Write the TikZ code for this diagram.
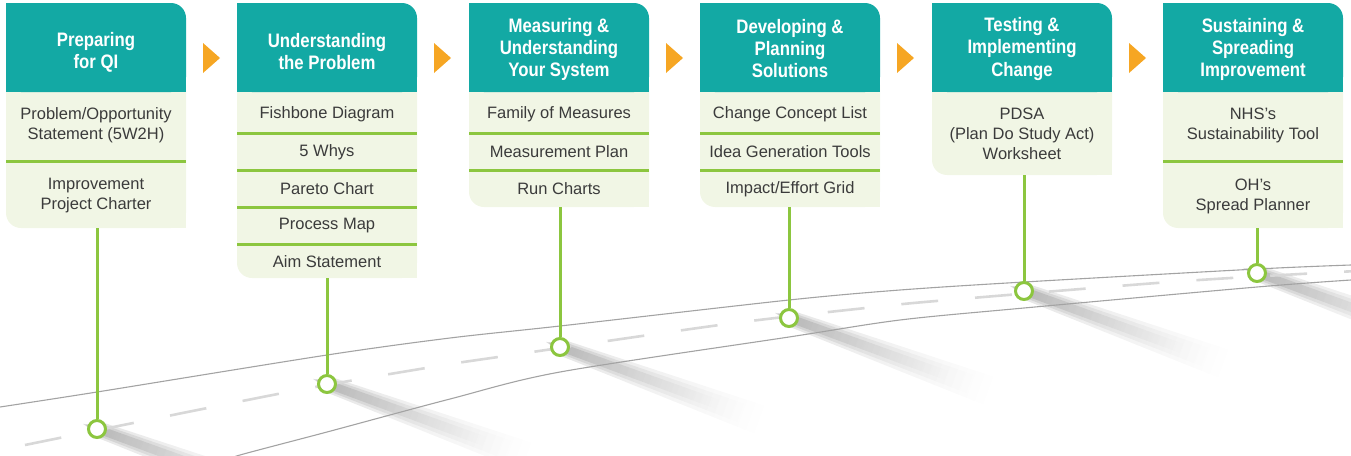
\documentclass[tikz,border=0pt]{standalone}
\usepackage{fontspec}
\setmainfont{Liberation Sans}
\newfontfamily\hdfont[FakeStretch=0.86]{Liberation Sans}
\usetikzlibrary{fadings}
\definecolor{qiteal}{HTML}{13A9A4}
\definecolor{qicream}{HTML}{F1F6E5}
\definecolor{qigreen}{HTML}{8CC63F}
\definecolor{qiorange}{HTML}{F6A623}
\definecolor{qitext}{HTML}{3B3B3B}
\definecolor{qiroad}{HTML}{A3A3A3}
\definecolor{qidash}{HTML}{D8D8D8}
\tikzfading[name=shfade, left color=transparent!0, right color=transparent!100]
\tikzset{
  hdtext/.style={text=white, align=center, font=\hdfont\bfseries\fontsize{19.5}{22}\selectfont},
  itemtext/.style={text=qitext, align=center, font=\fontsize{16.5}{20}\selectfont},
  sepline/.style={draw=qigreen, line width=3pt},
  pole/.style={draw=qigreen, line width=3pt},
  milestone/.style={circle, draw=qigreen, line width=3pt, fill=white, minimum size=17pt, inner sep=0pt},
  roadedge/.style={draw=qiroad, line width=1.1pt},
  roaddash/.style={draw=qidash, line width=2.6pt, dash pattern=on 37pt off 37pt},
  steparrow/.style={fill=qiorange},
  shadowpart/.style={fill=black, opacity=0.10, path fading=shfade},
}
\newcommand\qibox[2]{%
  \fill[qicream, rounded corners=15pt] (#1,70) rectangle (#1+180,#2);
  \fill[qicream] (#1+150,#2-30) rectangle (#1+180,#2);
  \fill[qiteal, rounded corners=15pt] (#1,3) rectangle (#1+180,92);
  \fill[qiteal] (#1,3) rectangle (#1+30,40);
  \fill[qiteal] (#1,60) rectangle (#1+180,92);
}
\newcommand\qisep[2]{\draw[sepline] (#1,#2) -- (#1+180,#2);}
\newcommand\qishadow[2]{%
  \begin{scope}[transform canvas={shift={(#1,#2)}, rotate=-20}]
    \fill[shadowpart] (-10,0) -- (0,-8) -- (215,-15) -- (215,15) -- (0,8) -- cycle;
    \fill[shadowpart] (-12,0) -- (0,-6) -- (195,-10) -- (195,10) -- (0,6) -- cycle;
    \fill[shadowpart, opacity=0.12] (-15,0) -- (0,-4) -- (170,-5) -- (170,5) -- (0,4) -- cycle;
  \end{scope}}
\begin{document}
\begin{tikzpicture}[x=1pt, y=-1pt]
\useasboundingbox (0,0) rectangle (1351,455);
\clip (0,0) rectangle (1351,455);
% shadows
\qishadow{97}{429}
\qishadow{327}{384}
\qishadow{560}{347}
\qishadow{789}{318}
\qishadow{1024}{291}
\qishadow{1257}{273}
% road
\draw[roadedge] plot[smooth] coordinates {(0,407) (97,392) (327,355) (450,338) (560,326) (789,300) (900,290) (1024,282) (1257,269) (1351,265)};
\draw[roadedge] plot[smooth] coordinates {(225,461) (240,455) (327,432) (450,399) (560,372) (789,337) (900,320) (1024,308) (1257,287) (1351,280)};
\draw[roaddash] plot[smooth] coordinates {(25,445) (283,393) (432,367) (505,356) (727,324) (875,307) (948,300) (1170,282) (1318,273) (1360,271)};
% boxes
\qibox{6}{228}
\qibox{237}{278}
\qibox{469}{207}
\qibox{700}{207}
\qibox{932}{175}
\qibox{1163}{228}
\qisep{6}{161}
\qisep{237}{133}\qisep{237}{170}\qisep{237}{207}\qisep{237}{244}
\qisep{469}{133}\qisep{469}{170}
\qisep{700}{133}\qisep{700}{170}
\qisep{1163}{161}
% arrows
\fill[steparrow] (203,43) -- (220,58) -- (203,73) -- cycle;
\fill[steparrow] (434,43) -- (451,58) -- (434,73) -- cycle;
\fill[steparrow] (666,43) -- (683,58) -- (666,73) -- cycle;
\fill[steparrow] (897,43) -- (914,58) -- (897,73) -- cycle;
\fill[steparrow] (1129,43) -- (1146,58) -- (1129,73) -- cycle;
% headers
\node[hdtext] (h1) at (96,52) {Preparing\\for QI};
\node[hdtext] (h2) at (327,52) {Understanding\\the Problem};
\node[hdtext] (h3) at (559,49) {Measuring \&\\Understanding\\Your System};
\node[hdtext] (h4) at (790,49) {Developing \&\\Planning\\Solutions};
\node[hdtext] (h5) at (1022,49) {Testing \&\\Implementing\\Change};
\node[hdtext] (h6) at (1253,49) {Sustaining \&\\Spreading\\Improvement};
% items
\node[itemtext] (a1) at (96,125) {Problem/Opportunity\\Statement (5W2H)};
\node[itemtext] (a2) at (96,196) {Improvement\\Project Charter};
\node[itemtext] (b1) at (327,114) {Fishbone Diagram};
\node[itemtext] (b2) at (327,152) {5 Whys};
\node[itemtext] (b3) at (327,189) {Pareto Chart};
\node[itemtext] (b4) at (327,226) {Process Map};
\node[itemtext] (b5) at (327,262) {Aim Statement};
\node[itemtext] (c1) at (559,114) {Family of Measures};
\node[itemtext] (c2) at (559,152) {Measurement Plan};
\node[itemtext] (c3) at (559,189) {Run Charts};
\node[itemtext] (d1) at (790,114) {Change Concept List};
\node[itemtext] (d2) at (790,152) {Idea Generation Tools};
\node[itemtext] (d3) at (790,189) {Impact/Effort Grid};
\node[itemtext] (e1) at (1022,134) {PDSA\\(Plan Do Study Act)\\Worksheet};
\node[itemtext] (f1) at (1253,125) {NHS’s\\Sustainability Tool};
\node[itemtext] (f2) at (1253,196) {OH’s\\Spread Planner};
% poles and milestones
\coordinate (s1) at (97,228);
\coordinate (s2) at (327,278);
\coordinate (s3) at (560,207);
\coordinate (s4) at (789,207);
\coordinate (s5) at (1024,175);
\coordinate (s6) at (1257,228);
\node[milestone] (m1) at (97,429) {};
\node[milestone] (m2) at (327,384) {};
\node[milestone] (m3) at (560,347) {};
\node[milestone] (m4) at (789,318) {};
\node[milestone] (m5) at (1024,291) {};
\node[milestone] (m6) at (1257,273) {};
\foreach \i in {1,...,6} { \draw[pole] (s\i) -- (m\i.north); }
\end{tikzpicture}
\end{document}
